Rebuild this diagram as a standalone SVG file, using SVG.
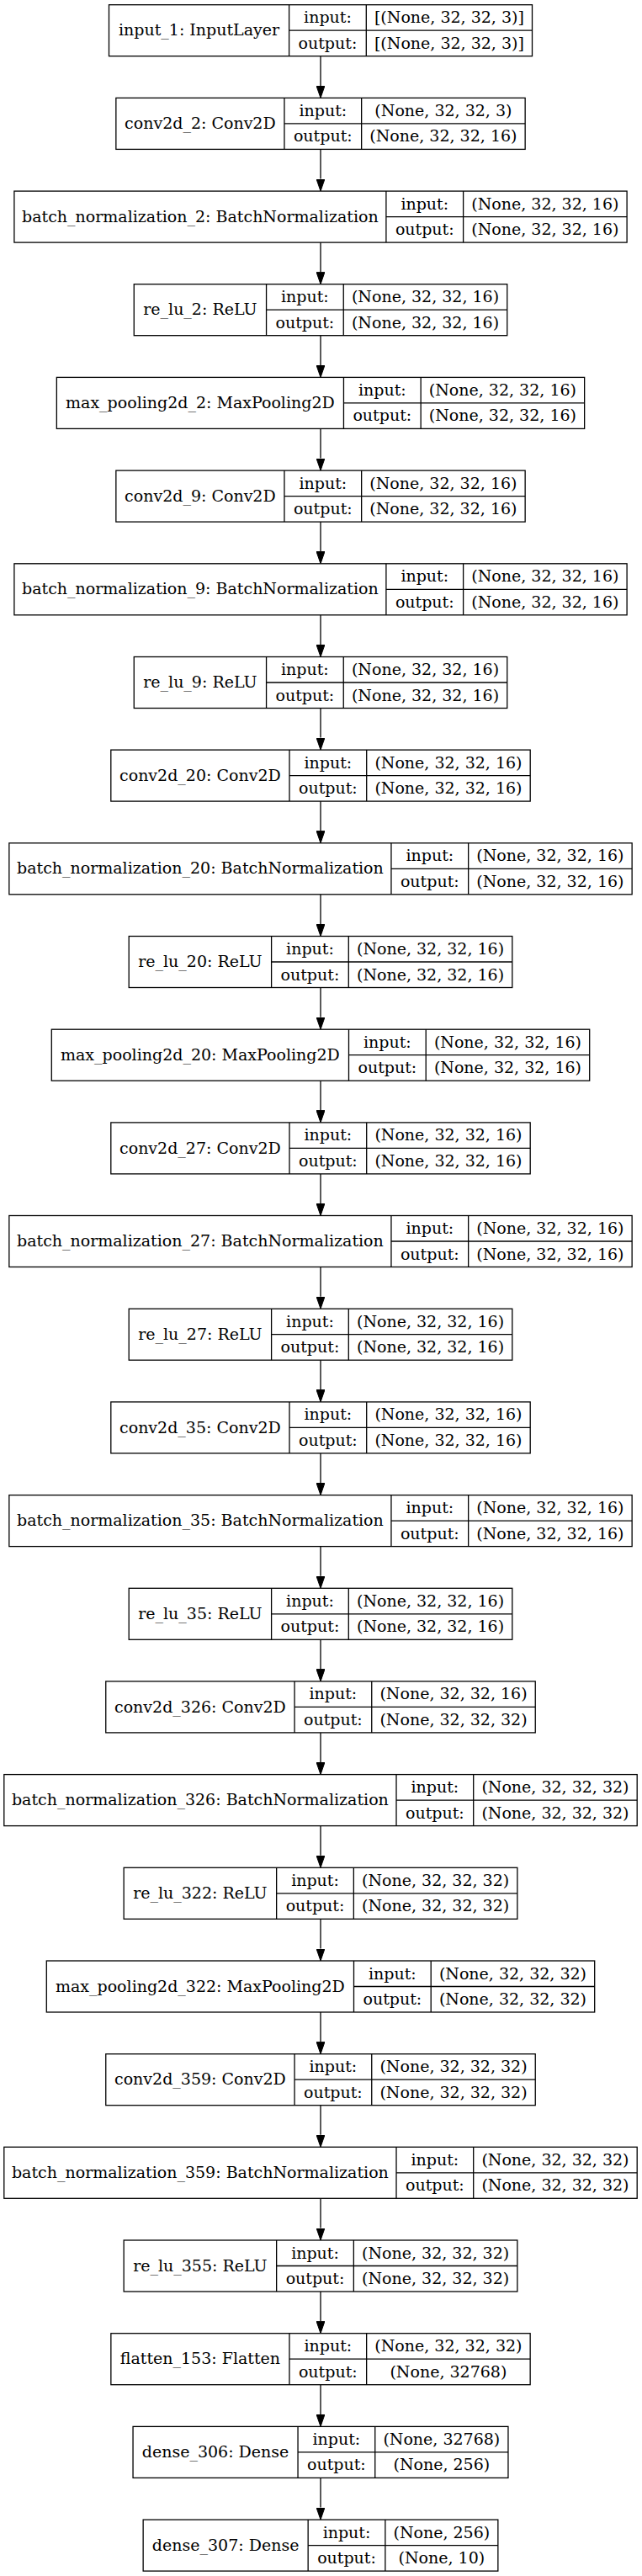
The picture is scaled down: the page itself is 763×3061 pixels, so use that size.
<svg xmlns="http://www.w3.org/2000/svg" width="763" height="3061" viewBox="0 0 763 3061">
<defs>
<style>
rect.b{fill:#fff;stroke:#000;stroke-width:1.3}
.n line{stroke:#000;stroke-width:1.3}
text{font-family:"DejaVu Serif","Liberation Serif",serif;font-size:19px;fill:#000;text-anchor:middle}
.e path{stroke:#000;stroke-width:1.3;fill:none;marker-end:url(#ah)}
</style>
<marker id="ah" viewBox="0 0 14.5 10" refX="0" refY="5" markerWidth="14.5" markerHeight="10" markerUnits="userSpaceOnUse" orient="auto"><path d="M0,0L14.5,5L0,10z" fill="#000" stroke="#000" stroke-width="1"/></marker>
</defs>
<rect width="763" height="3061" fill="#fff"/>
<g id="edges" class="e">
<path d="M381,66.7V101.9"/><path d="M381,177.4V212.6"/><path d="M381,288.1V323.2"/><path d="M381,398.7V433.9"/><path d="M381,509.4V544.6"/><path d="M381,620.1V655.3"/><path d="M381,730.8V766"/><path d="M381,841.5V876.6"/><path d="M381,952.1V987.3"/><path d="M381,1062.8V1098"/><path d="M381,1173.5V1208.7"/><path d="M381,1284.2V1319.4"/><path d="M381,1394.9V1430"/><path d="M381,1505.5V1540.7"/><path d="M381,1616.2V1651.4"/><path d="M381,1726.9V1762.1"/><path d="M381,1837.6V1872.8"/><path d="M381,1948.3V1983.4"/><path d="M381,2058.9V2094.1"/><path d="M381,2169.6V2204.8"/><path d="M381,2280.3V2315.5"/><path d="M381,2391V2426.2"/><path d="M381,2501.7V2536.8"/><path d="M381,2612.3V2647.5"/><path d="M381,2723V2758.2"/><path d="M381,2833.7V2868.9"/><path d="M381,2944.4V2979.6"/>
</g>
<g id="input_1" class="n" transform="translate(0,5.7)"><rect class="b" x="129.5" y="0" width="503" height="61"/><line x1="343.6" y1="0" x2="343.6" y2="61"/><line x1="435.3" y1="0" x2="435.3" y2="61"/><line x1="343.6" y1="30.5" x2="632.5" y2="30.5"/><text x="236.55" y="36.7">input_1: InputLayer</text><text x="389.45" y="21.5">input:</text><text x="389.45" y="52">output:</text><text x="533.9" y="21.5">[(None, 32, 32, 3)]</text><text x="533.9" y="52">[(None, 32, 32, 3)]</text></g>
<g id="conv2d_2" class="n" transform="translate(0,116.4)"><rect class="b" x="137.85" y="0" width="486.3" height="61"/><line x1="337.95" y1="0" x2="337.95" y2="61"/><line x1="429.65" y1="0" x2="429.65" y2="61"/><line x1="337.95" y1="30.5" x2="624.15" y2="30.5"/><text x="237.9" y="36.7">conv2d_2: Conv2D</text><text x="383.8" y="21.5">input:</text><text x="383.8" y="52">output:</text><text x="526.9" y="21.5">(None, 32, 32, 3)</text><text x="526.9" y="52">(None, 32, 32, 16)</text></g>
<g id="batch_normalization_2" class="n" transform="translate(0,227.1)"><rect class="b" x="16.9" y="0" width="728.2" height="61"/><line x1="458.9" y1="0" x2="458.9" y2="61"/><line x1="550.6" y1="0" x2="550.6" y2="61"/><line x1="458.9" y1="30.5" x2="745.1" y2="30.5"/><text x="237.9" y="36.7">batch_normalization_2: BatchNormalization</text><text x="504.75" y="21.5">input:</text><text x="504.75" y="52">output:</text><text x="647.85" y="21.5">(None, 32, 32, 16)</text><text x="647.85" y="52">(None, 32, 32, 16)</text></g>
<g id="re_lu_2" class="n" transform="translate(0,337.7)"><rect class="b" x="159.25" y="0" width="443.5" height="61"/><line x1="316.55" y1="0" x2="316.55" y2="61"/><line x1="408.25" y1="0" x2="408.25" y2="61"/><line x1="316.55" y1="30.5" x2="602.75" y2="30.5"/><text x="237.9" y="36.7">re_lu_2: ReLU</text><text x="362.4" y="21.5">input:</text><text x="362.4" y="52">output:</text><text x="505.5" y="21.5">(None, 32, 32, 16)</text><text x="505.5" y="52">(None, 32, 32, 16)</text></g>
<g id="max_pooling2d_2" class="n" transform="translate(0,448.4)"><rect class="b" x="67.35" y="0" width="627.3" height="61"/><line x1="408.45" y1="0" x2="408.45" y2="61"/><line x1="500.15" y1="0" x2="500.15" y2="61"/><line x1="408.45" y1="30.5" x2="694.65" y2="30.5"/><text x="237.9" y="36.7">max_pooling2d_2: MaxPooling2D</text><text x="454.3" y="21.5">input:</text><text x="454.3" y="52">output:</text><text x="597.4" y="21.5">(None, 32, 32, 16)</text><text x="597.4" y="52">(None, 32, 32, 16)</text></g>
<g id="conv2d_9" class="n" transform="translate(0,559.1)"><rect class="b" x="137.85" y="0" width="486.3" height="61"/><line x1="337.95" y1="0" x2="337.95" y2="61"/><line x1="429.65" y1="0" x2="429.65" y2="61"/><line x1="337.95" y1="30.5" x2="624.15" y2="30.5"/><text x="237.9" y="36.7">conv2d_9: Conv2D</text><text x="383.8" y="21.5">input:</text><text x="383.8" y="52">output:</text><text x="526.9" y="21.5">(None, 32, 32, 16)</text><text x="526.9" y="52">(None, 32, 32, 16)</text></g>
<g id="batch_normalization_9" class="n" transform="translate(0,669.8)"><rect class="b" x="16.9" y="0" width="728.2" height="61"/><line x1="458.9" y1="0" x2="458.9" y2="61"/><line x1="550.6" y1="0" x2="550.6" y2="61"/><line x1="458.9" y1="30.5" x2="745.1" y2="30.5"/><text x="237.9" y="36.7">batch_normalization_9: BatchNormalization</text><text x="504.75" y="21.5">input:</text><text x="504.75" y="52">output:</text><text x="647.85" y="21.5">(None, 32, 32, 16)</text><text x="647.85" y="52">(None, 32, 32, 16)</text></g>
<g id="re_lu_9" class="n" transform="translate(0,780.5)"><rect class="b" x="159.25" y="0" width="443.5" height="61"/><line x1="316.55" y1="0" x2="316.55" y2="61"/><line x1="408.25" y1="0" x2="408.25" y2="61"/><line x1="316.55" y1="30.5" x2="602.75" y2="30.5"/><text x="237.9" y="36.7">re_lu_9: ReLU</text><text x="362.4" y="21.5">input:</text><text x="362.4" y="52">output:</text><text x="505.5" y="21.5">(None, 32, 32, 16)</text><text x="505.5" y="52">(None, 32, 32, 16)</text></g>
<g id="conv2d_20" class="n" transform="translate(0,891.1)"><rect class="b" x="131.8" y="0" width="498.4" height="61"/><line x1="344" y1="0" x2="344" y2="61"/><line x1="435.7" y1="0" x2="435.7" y2="61"/><line x1="344" y1="30.5" x2="630.2" y2="30.5"/><text x="237.9" y="36.7">conv2d_20: Conv2D</text><text x="389.85" y="21.5">input:</text><text x="389.85" y="52">output:</text><text x="532.95" y="21.5">(None, 32, 32, 16)</text><text x="532.95" y="52">(None, 32, 32, 16)</text></g>
<g id="batch_normalization_20" class="n" transform="translate(0,1001.8)"><rect class="b" x="10.85" y="0" width="740.3" height="61"/><line x1="464.95" y1="0" x2="464.95" y2="61"/><line x1="556.65" y1="0" x2="556.65" y2="61"/><line x1="464.95" y1="30.5" x2="751.15" y2="30.5"/><text x="237.9" y="36.7">batch_normalization_20: BatchNormalization</text><text x="510.8" y="21.5">input:</text><text x="510.8" y="52">output:</text><text x="653.9" y="21.5">(None, 32, 32, 16)</text><text x="653.9" y="52">(None, 32, 32, 16)</text></g>
<g id="re_lu_20" class="n" transform="translate(0,1112.5)"><rect class="b" x="153.2" y="0" width="455.6" height="61"/><line x1="322.6" y1="0" x2="322.6" y2="61"/><line x1="414.3" y1="0" x2="414.3" y2="61"/><line x1="322.6" y1="30.5" x2="608.8" y2="30.5"/><text x="237.9" y="36.7">re_lu_20: ReLU</text><text x="368.45" y="21.5">input:</text><text x="368.45" y="52">output:</text><text x="511.55" y="21.5">(None, 32, 32, 16)</text><text x="511.55" y="52">(None, 32, 32, 16)</text></g>
<g id="max_pooling2d_20" class="n" transform="translate(0,1223.2)"><rect class="b" x="61.3" y="0" width="639.4" height="61"/><line x1="414.5" y1="0" x2="414.5" y2="61"/><line x1="506.2" y1="0" x2="506.2" y2="61"/><line x1="414.5" y1="30.5" x2="700.7" y2="30.5"/><text x="237.9" y="36.7">max_pooling2d_20: MaxPooling2D</text><text x="460.35" y="21.5">input:</text><text x="460.35" y="52">output:</text><text x="603.45" y="21.5">(None, 32, 32, 16)</text><text x="603.45" y="52">(None, 32, 32, 16)</text></g>
<g id="conv2d_27" class="n" transform="translate(0,1333.9)"><rect class="b" x="131.8" y="0" width="498.4" height="61"/><line x1="344" y1="0" x2="344" y2="61"/><line x1="435.7" y1="0" x2="435.7" y2="61"/><line x1="344" y1="30.5" x2="630.2" y2="30.5"/><text x="237.9" y="36.7">conv2d_27: Conv2D</text><text x="389.85" y="21.5">input:</text><text x="389.85" y="52">output:</text><text x="532.95" y="21.5">(None, 32, 32, 16)</text><text x="532.95" y="52">(None, 32, 32, 16)</text></g>
<g id="batch_normalization_27" class="n" transform="translate(0,1444.5)"><rect class="b" x="10.85" y="0" width="740.3" height="61"/><line x1="464.95" y1="0" x2="464.95" y2="61"/><line x1="556.65" y1="0" x2="556.65" y2="61"/><line x1="464.95" y1="30.5" x2="751.15" y2="30.5"/><text x="237.9" y="36.7">batch_normalization_27: BatchNormalization</text><text x="510.8" y="21.5">input:</text><text x="510.8" y="52">output:</text><text x="653.9" y="21.5">(None, 32, 32, 16)</text><text x="653.9" y="52">(None, 32, 32, 16)</text></g>
<g id="re_lu_27" class="n" transform="translate(0,1555.2)"><rect class="b" x="153.2" y="0" width="455.6" height="61"/><line x1="322.6" y1="0" x2="322.6" y2="61"/><line x1="414.3" y1="0" x2="414.3" y2="61"/><line x1="322.6" y1="30.5" x2="608.8" y2="30.5"/><text x="237.9" y="36.7">re_lu_27: ReLU</text><text x="368.45" y="21.5">input:</text><text x="368.45" y="52">output:</text><text x="511.55" y="21.5">(None, 32, 32, 16)</text><text x="511.55" y="52">(None, 32, 32, 16)</text></g>
<g id="conv2d_35" class="n" transform="translate(0,1665.9)"><rect class="b" x="131.8" y="0" width="498.4" height="61"/><line x1="344" y1="0" x2="344" y2="61"/><line x1="435.7" y1="0" x2="435.7" y2="61"/><line x1="344" y1="30.5" x2="630.2" y2="30.5"/><text x="237.9" y="36.7">conv2d_35: Conv2D</text><text x="389.85" y="21.5">input:</text><text x="389.85" y="52">output:</text><text x="532.95" y="21.5">(None, 32, 32, 16)</text><text x="532.95" y="52">(None, 32, 32, 16)</text></g>
<g id="batch_normalization_35" class="n" transform="translate(0,1776.6)"><rect class="b" x="10.85" y="0" width="740.3" height="61"/><line x1="464.95" y1="0" x2="464.95" y2="61"/><line x1="556.65" y1="0" x2="556.65" y2="61"/><line x1="464.95" y1="30.5" x2="751.15" y2="30.5"/><text x="237.9" y="36.7">batch_normalization_35: BatchNormalization</text><text x="510.8" y="21.5">input:</text><text x="510.8" y="52">output:</text><text x="653.9" y="21.5">(None, 32, 32, 16)</text><text x="653.9" y="52">(None, 32, 32, 16)</text></g>
<g id="re_lu_35" class="n" transform="translate(0,1887.3)"><rect class="b" x="153.2" y="0" width="455.6" height="61"/><line x1="322.6" y1="0" x2="322.6" y2="61"/><line x1="414.3" y1="0" x2="414.3" y2="61"/><line x1="322.6" y1="30.5" x2="608.8" y2="30.5"/><text x="237.9" y="36.7">re_lu_35: ReLU</text><text x="368.45" y="21.5">input:</text><text x="368.45" y="52">output:</text><text x="511.55" y="21.5">(None, 32, 32, 16)</text><text x="511.55" y="52">(None, 32, 32, 16)</text></g>
<g id="conv2d_326" class="n" transform="translate(0,1997.9)"><rect class="b" x="125.75" y="0" width="510.5" height="61"/><line x1="350.05" y1="0" x2="350.05" y2="61"/><line x1="441.75" y1="0" x2="441.75" y2="61"/><line x1="350.05" y1="30.5" x2="636.25" y2="30.5"/><text x="237.9" y="36.7">conv2d_326: Conv2D</text><text x="395.9" y="21.5">input:</text><text x="395.9" y="52">output:</text><text x="539" y="21.5">(None, 32, 32, 16)</text><text x="539" y="52">(None, 32, 32, 32)</text></g>
<g id="batch_normalization_326" class="n" transform="translate(0,2108.6)"><rect class="b" x="4.8" y="0" width="752.4" height="61"/><line x1="471" y1="0" x2="471" y2="61"/><line x1="562.7" y1="0" x2="562.7" y2="61"/><line x1="471" y1="30.5" x2="757.2" y2="30.5"/><text x="237.9" y="36.7">batch_normalization_326: BatchNormalization</text><text x="516.85" y="21.5">input:</text><text x="516.85" y="52">output:</text><text x="659.95" y="21.5">(None, 32, 32, 32)</text><text x="659.95" y="52">(None, 32, 32, 32)</text></g>
<g id="re_lu_322" class="n" transform="translate(0,2219.3)"><rect class="b" x="147.15" y="0" width="467.7" height="61"/><line x1="328.65" y1="0" x2="328.65" y2="61"/><line x1="420.35" y1="0" x2="420.35" y2="61"/><line x1="328.65" y1="30.5" x2="614.85" y2="30.5"/><text x="237.9" y="36.7">re_lu_322: ReLU</text><text x="374.5" y="21.5">input:</text><text x="374.5" y="52">output:</text><text x="517.6" y="21.5">(None, 32, 32, 32)</text><text x="517.6" y="52">(None, 32, 32, 32)</text></g>
<g id="max_pooling2d_322" class="n" transform="translate(0,2330)"><rect class="b" x="55.3" y="0" width="651.4" height="61"/><line x1="420.5" y1="0" x2="420.5" y2="61"/><line x1="512.2" y1="0" x2="512.2" y2="61"/><line x1="420.5" y1="30.5" x2="706.7" y2="30.5"/><text x="237.9" y="36.7">max_pooling2d_322: MaxPooling2D</text><text x="466.35" y="21.5">input:</text><text x="466.35" y="52">output:</text><text x="609.45" y="21.5">(None, 32, 32, 32)</text><text x="609.45" y="52">(None, 32, 32, 32)</text></g>
<g id="conv2d_359" class="n" transform="translate(0,2440.7)"><rect class="b" x="125.75" y="0" width="510.5" height="61"/><line x1="350.05" y1="0" x2="350.05" y2="61"/><line x1="441.75" y1="0" x2="441.75" y2="61"/><line x1="350.05" y1="30.5" x2="636.25" y2="30.5"/><text x="237.9" y="36.7">conv2d_359: Conv2D</text><text x="395.9" y="21.5">input:</text><text x="395.9" y="52">output:</text><text x="539" y="21.5">(None, 32, 32, 32)</text><text x="539" y="52">(None, 32, 32, 32)</text></g>
<g id="batch_normalization_359" class="n" transform="translate(0,2551.3)"><rect class="b" x="4.8" y="0" width="752.4" height="61"/><line x1="471" y1="0" x2="471" y2="61"/><line x1="562.7" y1="0" x2="562.7" y2="61"/><line x1="471" y1="30.5" x2="757.2" y2="30.5"/><text x="237.9" y="36.7">batch_normalization_359: BatchNormalization</text><text x="516.85" y="21.5">input:</text><text x="516.85" y="52">output:</text><text x="659.95" y="21.5">(None, 32, 32, 32)</text><text x="659.95" y="52">(None, 32, 32, 32)</text></g>
<g id="re_lu_355" class="n" transform="translate(0,2662)"><rect class="b" x="147.15" y="0" width="467.7" height="61"/><line x1="328.65" y1="0" x2="328.65" y2="61"/><line x1="420.35" y1="0" x2="420.35" y2="61"/><line x1="328.65" y1="30.5" x2="614.85" y2="30.5"/><text x="237.9" y="36.7">re_lu_355: ReLU</text><text x="374.5" y="21.5">input:</text><text x="374.5" y="52">output:</text><text x="517.6" y="21.5">(None, 32, 32, 32)</text><text x="517.6" y="52">(None, 32, 32, 32)</text></g>
<g id="flatten_153" class="n" transform="translate(0,2772.7)"><rect class="b" x="131.85" y="0" width="498.3" height="61"/><line x1="343.95" y1="0" x2="343.95" y2="61"/><line x1="435.65" y1="0" x2="435.65" y2="61"/><line x1="343.95" y1="30.5" x2="630.15" y2="30.5"/><text x="237.9" y="36.7">flatten_153: Flatten</text><text x="389.8" y="21.5">input:</text><text x="389.8" y="52">output:</text><text x="532.9" y="21.5">(None, 32, 32, 32)</text><text x="532.9" y="52">(None, 32768)</text></g>
<g id="dense_306" class="n" transform="translate(0,2883.4)"><rect class="b" x="158.05" y="0" width="445.9" height="61"/><line x1="354.05" y1="0" x2="354.05" y2="61"/><line x1="445.75" y1="0" x2="445.75" y2="61"/><line x1="354.05" y1="30.5" x2="603.95" y2="30.5"/><text x="256.05" y="36.7">dense_306: Dense</text><text x="399.9" y="21.5">input:</text><text x="399.9" y="52">output:</text><text x="524.85" y="21.5">(None, 32768)</text><text x="524.85" y="52">(None, 256)</text></g>
<g id="dense_307" class="n" transform="translate(0,2994.1)"><rect class="b" x="170.15" y="0" width="421.7" height="61"/><line x1="366.15" y1="0" x2="366.15" y2="61"/><line x1="457.85" y1="0" x2="457.85" y2="61"/><line x1="366.15" y1="30.5" x2="591.85" y2="30.5"/><text x="268.15" y="36.7">dense_307: Dense</text><text x="412" y="21.5">input:</text><text x="412" y="52">output:</text><text x="524.85" y="21.5">(None, 256)</text><text x="524.85" y="52">(None, 10)</text></g>
</svg>
